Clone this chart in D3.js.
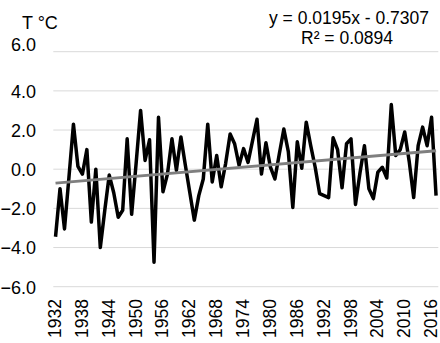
<!DOCTYPE html>
<html>
<head>
<meta charset="utf-8">
<script src="https://cdn.jsdelivr.net/npm/d3@7"></script>
<style>
  html, body { margin: 0; padding: 0; background: #fff; }
  svg text { font-family: "Liberation Sans", Arial, sans-serif; fill: #000; }
</style>
</head>
<body>
<svg id="chart" width="440" height="343"></svg>
<script>
const firstYear = 1932;
const lastYear = 2017;
const years = d3.range(firstYear, lastYear + 1);
const temps = [
  -3.45, -1.0, -3.05, -0.4, 2.3, 0.15, -0.25, 1.0, -2.7, 0.0,
  -4.0, -2.1, -0.3, -1.2, -2.45, -2.1, 1.55, -2.3, 0.3, 3.0,
  0.45, 1.5, -4.75, 2.65, -1.15, -0.25, 1.55, -0.05, 1.65, 0.2,
  -1.2, -2.6, -1.35, -0.5, 2.3, -0.65, 0.7, -0.9, 0.3, 1.8,
  1.3, 0.2, 1.05, 0.35, 1.45, 2.55, -0.25, 1.35, 0.1, -0.5,
  0.8, 2.05, 0.9, -1.95, 1.4, 0.05, 2.4, 1.2, 0.1, -1.25,
  -1.35, -1.45, 1.6, 1.0, -0.95, 1.3, 1.55, -1.8, -0.2, 1.2,
  -1.0, -1.5, -0.15, 0.1, -0.45, 3.3, 0.7, 1.0, 1.9, 0.4,
  -1.45, 1.2, 2.15, 1.2, 2.65, -1.35
];
const yTicks = [-6, -4, -2, 0, 2, 4, 6];
const xTickLabels = [1932, 1938, 1944, 1950, 1956, 1962, 1968, 1974, 1980, 1986, 1992, 1998, 2004, 2010, 2016];
const trendSlope = 0.0195;
const trendIntercept = -0.7307;
const equationText = "y = 0.0195x - 0.7307";
const r2Text = "R² = 0.0894";
const unitText = "T °C";

const svg = d3.select("#chart");
const plotLeft = 53.3, plotRight = 438.3, plotTop = 51.7, plotBottom = 286.7;

const x = d3.scaleBand().domain(years).range([plotLeft, plotRight]);
const cx = d => x(d) + x.bandwidth() / 2;
const y = d3.scaleLinear().domain([-6, 6]).range([plotBottom, plotTop]);

// gridlines
svg.append("g").selectAll("line").data(yTicks).join("line")
  .attr("x1", plotLeft).attr("x2", plotRight)
  .attr("y1", d => y(d)).attr("y2", d => y(d))
  .attr("stroke", "#d9d9d9").attr("stroke-width", 1);

// y axis labels
const yAxis = d3.axisLeft(y).tickValues(yTicks).tickFormat(d3.format(".1f")).tickSize(0).tickPadding(0);
const gy = svg.append("g").attr("transform", "translate(36,0)").call(yAxis);
gy.select(".domain").remove();
gy.selectAll("text").attr("font-size", 18).style("font-family", '"Liberation Sans", Arial, sans-serif').attr("fill", "#000")
  .attr("dy", d => d === 6 ? "-0.05em" : "0.35em");

// x axis labels (rotated)
const gx = svg.append("g");
gx.selectAll("text").data(xTickLabels).join("text")
  .attr("transform", d => `translate(${cx(d) + 5.5},299) rotate(-90)`)
  .attr("text-anchor", "end")
  .attr("font-size", 17.5)
  .text(d => d);

// data line
const line = d3.line().x((d, i) => cx(years[i])).y(d => y(d));
svg.append("path").datum(temps)
  .attr("d", line)
  .attr("fill", "none").attr("stroke", "#000").attr("stroke-width", 3.5)
  .attr("stroke-linejoin", "round");

// trendline (x = 1..N)
const trendPts = [1, years.length].map(k => [cx(years[k - 1]), y(trendSlope * k + trendIntercept)]);
svg.append("path").attr("d", d3.line()(trendPts))
  .attr("fill", "none").attr("stroke", "#7f7f7f").attr("stroke-width", 3);

// texts
svg.append("text").attr("x", 22).attr("y", 29).attr("font-size", 18).text(unitText);
svg.append("text").attr("x", 349).attr("y", 24).attr("text-anchor", "middle").attr("font-size", 17.5).text(equationText);
svg.append("text").attr("x", 347).attr("y", 44).attr("text-anchor", "middle").attr("font-size", 17.5).text(r2Text);
</script>
</body>
</html>
